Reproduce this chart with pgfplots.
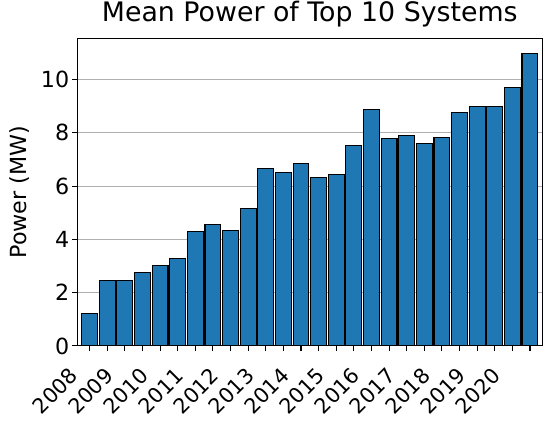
\documentclass[border=0pt]{standalone}
\usepackage{graphicx}
\usepackage{pgfplots}
\pgfplotsset{compat=1.18}
\usepackage{fontspec}
\setmainfont{DejaVu Sans}
\definecolor{mplblue}{RGB}{31,119,180}
\definecolor{gridgray}{RGB}{176,176,176}
\newcommand{\rl}[1]{\rotatebox{45}{\rule[-0.208em]{0pt}{0.968em}#1}}
\pgfplotsset{geom/.style={
  scale only axis,
  width=334.8pt, height=221.5pt,
  xmin=-0.7, xmax=25.7,
  ymin=0, ymax=11.55,
  ytick={0,2,4,6,8,10},
  xtick={0,...,25},
  tick pos=left,
}}
\begin{document}
\begin{tikzpicture}
\begin{axis}[
  name=ax,
  geom,
  xticklabels={}, yticklabels={},
  tick align=outside,
  major tick length=3.5pt,
  tick style={black, line width=0.8pt},
  axis line style={line width=0.8pt},
  ymajorgrids,
  grid style={gridgray, line width=0.8pt},
  title={Mean Power of Top 10 Systems},
  title style={font=\fontsize{19.3}{23}\selectfont, at={(axis description cs:0.5,1)}, anchor=base, yshift=6pt, inner sep=0pt},
  ylabel={Power (MW)},
  ylabel style={font=\fontsize{16}{19}\selectfont, at={(axis description cs:-0.11,0.5)}, anchor=base, inner sep=0pt},
  ybar, bar width=0.9,
]
\addplot[fill=mplblue, draw=black, line width=0.8pt] coordinates {
(0,1.22) (1,2.46) (2,2.46) (3,2.76) (4,3.03) (5,3.29) (6,4.28) (7,4.56)
(8,4.34) (9,5.16) (10,6.66) (11,6.51) (12,6.85) (13,6.34) (14,6.44) (15,7.53)
(16,8.88) (17,7.79) (18,7.90) (19,7.60) (20,7.83) (21,8.76) (22,8.99) (23,8.99)
(24,9.70) (25,10.98)
};
\end{axis}
\begin{axis}[
  at={(ax.south west)}, anchor=south west,
  geom,
  xticklabels={\rl{2008},{},\rl{2009},{},\rl{2010},{},\rl{2011},{},\rl{2012},{},\rl{2013},{},\rl{2014},{},\rl{2015},{},\rl{2016},{},\rl{2017},{},\rl{2018},{},\rl{2019},{},\rl{2020},{}},
  tick align=inside,
  major tick length=0pt,
  tick style={draw=none},
  axis line style={draw=none},
  /pgf/number format/assume math mode=true,
  xticklabel style={font=\fontsize{15}{18}\selectfont, inner sep=0pt, anchor=north east, xshift=-5pt, yshift=-14.5pt},
  yticklabel style={font=\fontsize{16}{19}\selectfont, inner sep=0pt, anchor=east, xshift=-5.6pt},
]
\end{axis}
\path (ax.south west) ++(-55.66pt,-54.72pt) (ax.north east) ++(6.26pt,27.58pt);
\end{tikzpicture}
\end{document}
